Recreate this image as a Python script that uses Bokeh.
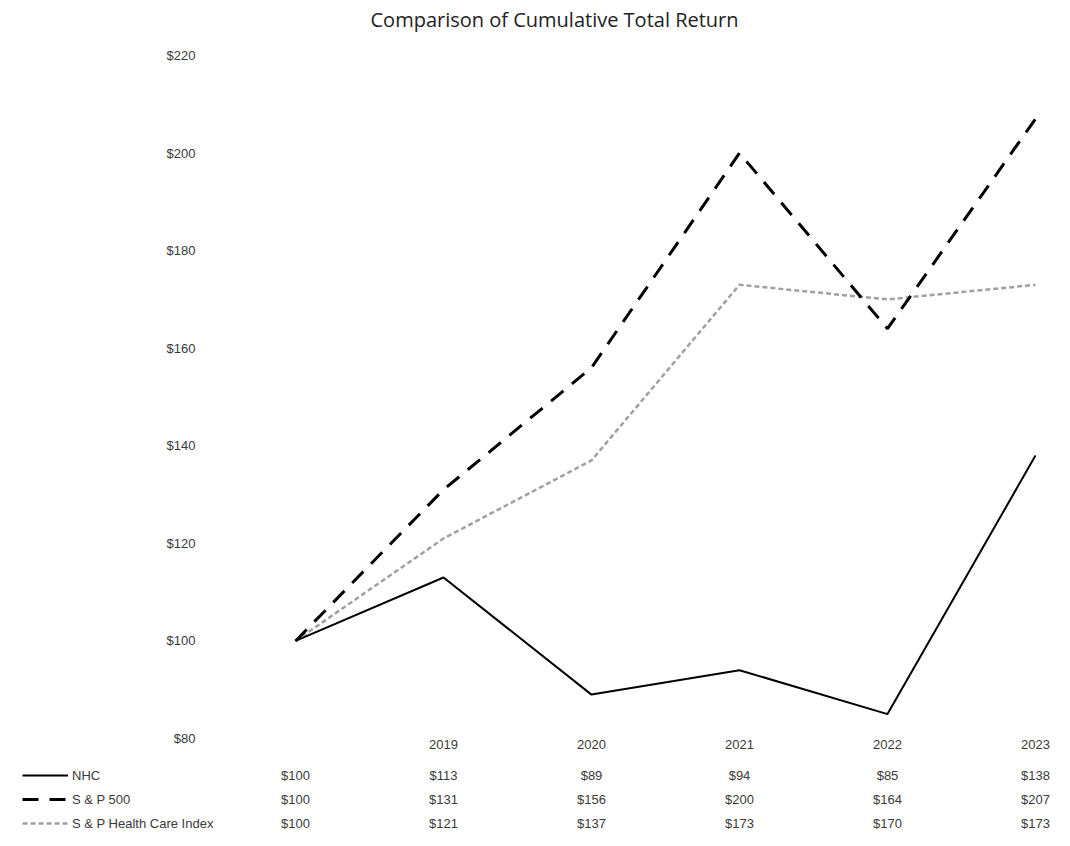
from bokeh.plotting import figure
from bokeh.models import Range1d, FixedTicker, NumeralTickFormatter, Legend, LegendItem
from bokeh.core.properties import value
from bokeh.embed import file_html
from bokeh.resources import INLINE

# ---- data ----
periods = ["", "2019", "2020", "2021", "2022", "2023"]
series_names = ["NHC", "S & P 500", "S & P Health Care Index"]
nhc = [100, 113, 89, 94, 85, 138]
sp500 = [100, 131, 156, 200, 164, 207]
sphc = [100, 121, 137, 173, 170, 173]
y_ticks = [80, 100, 120, 140, 160, 180, 200, 220]
title_text = "Comparison of Cumulative Total Return"

# ---- layout constants ----
W = 1054
PPU = 148.0          # pixels per period
X0 = 295.0           # page x of first period
TOP_FRAME_L = 205
FONT = "Liberation Sans"
TXT = "#3a3a3a"
Y_PX = 4.879         # pixels per dollar
TOP_BORDER = 32
FRAME_BOTTOM = 738
H1 = 756

styles = [
    dict(line_color="black", line_width=2),
    dict(line_color="black", line_width=3, line_dash="16 11"),
    dict(line_color="#a0a0a0", line_width=2.5, line_dash="5 3"),
]
values = [nhc, sp500, sphc]
xs = list(range(len(periods)))

# ---- top chart ----
y_top = y_ticks[-1] + (55 - TOP_BORDER) / Y_PX
p1 = figure(width=W, height=H1, output_backend="svg", toolbar_location=None,
            x_range=Range1d((TOP_FRAME_L - X0) / PPU, (W - X0) / PPU),
            y_range=Range1d(y_ticks[0], y_top),
            min_border_left=TOP_FRAME_L, min_border_right=0,
            min_border_top=TOP_BORDER, min_border_bottom=H1 - FRAME_BOTTOM,
            title=title_text)
p1.outline_line_color = None
p1.grid.visible = False
p1.title.align = "left"
p1.title.offset = 370 - TOP_FRAME_L
p1.title.standoff = 0
p1.title.text_font = "Open Sans"
p1.title.text_font_size = "20px"
p1.title.text_font_style = "normal"
p1.title.text_color = "#222222"

p1.yaxis.ticker = FixedTicker(ticks=y_ticks)
p1.yaxis.formatter = NumeralTickFormatter(format="$0")
p1.xaxis.ticker = FixedTicker(ticks=xs)
p1.xaxis.major_label_overrides = {i: lab for i, lab in enumerate(periods)}
for ax in (p1.xaxis, p1.yaxis):
    ax.axis_line_color = None
    ax.major_tick_line_color = None
    ax.minor_tick_line_color = None
    ax.major_tick_out = 0
    ax.major_tick_in = 0
    ax.minor_tick_out = 0
    ax.major_label_text_font = FONT
    ax.major_label_text_font_size = "13px"
    ax.major_label_text_color = TXT
p1.yaxis.major_label_standoff = 10
p1.xaxis.major_label_standoff = 1

for vals, st in reversed(list(zip(values, styles))):
    p1.line(xs, vals, **st)

# ---- data table below ----
ROW_PX = 24.0
first_row_off = 19.0
H2 = 88
top_val = -first_row_off / ROW_PX
p2 = figure(width=W, height=H2, output_backend="svg", toolbar_location=None,
            x_range=Range1d(-X0 / PPU, (W - X0) / PPU),
            y_range=Range1d(top_val + H2 / ROW_PX, top_val),
            x_axis_type=None, y_axis_type=None,
            min_border_left=0, min_border_right=0, min_border_top=0, min_border_bottom=0)
p2.outline_line_color = None
p2.grid.visible = False

nan = float("nan")
items = []
for r, (name, vals, st) in enumerate(zip(series_names, values, styles)):
    p2.text(x=xs, y=[r] * len(xs), text=["$" + str(v) for v in vals],
            text_align="center", text_baseline="middle",
            text_font=value(FONT), text_font_size="13px", text_color=TXT)
    dummy = p2.line(x=[nan, nan], y=[nan, nan], **st)
    items.append(LegendItem(label=name, renderers=[dummy]))

legend_h = ROW_PX * len(series_names)
legend = Legend(items=items,
                location=(22, int(H2 - (first_row_off - ROW_PX / 2) - legend_h)),
                orientation="vertical",
                glyph_width=46, glyph_height=int(ROW_PX), label_height=int(ROW_PX),
                label_standoff=4, spacing=0, padding=0, margin=0,
                border_line_color=None, background_fill_alpha=0,
                label_text_font=FONT, label_text_font_size="13px",
                label_text_color=TXT)
p2.add_layout(legend, "center")

open("out.html", "w").write(file_html([p1, p2], INLINE))
